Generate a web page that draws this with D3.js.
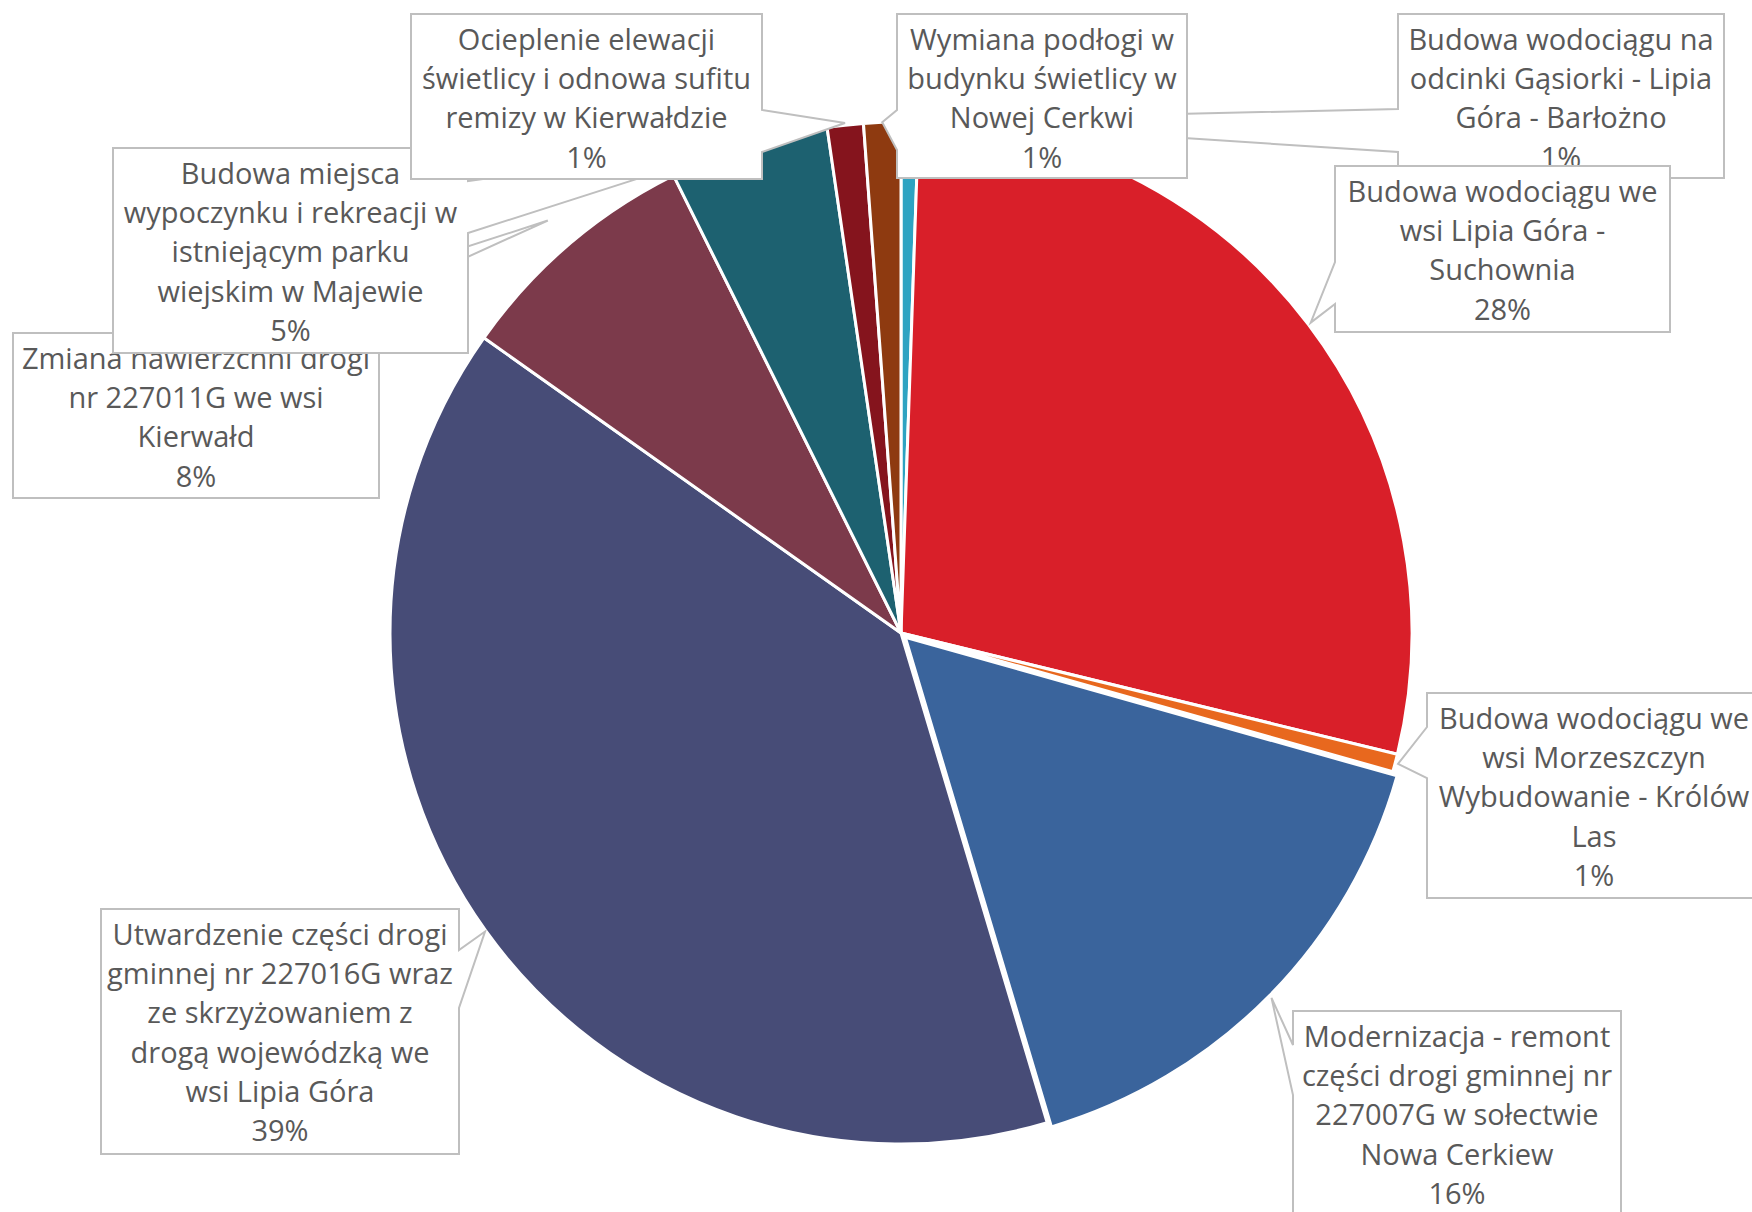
<!DOCTYPE html>
<html>
<head>
<meta charset="utf-8">
<script src="https://cdn.jsdelivr.net/npm/d3@7"></script>
<style>
  html, body { margin: 0; padding: 0; background: #ffffff; }
  svg { display: block; }
  text { font-family: "Open Sans", "Noto Sans", sans-serif; }
</style>
</head>
<body>
<svg id="chart" width="1752" height="1212"></svg>
<script>
// ---------------- DATA ----------------
const categories = [
  "Budowa wodociągu na\nodcinki Gąsiorki - Lipia\nGóra - Barłożno",
  "Budowa wodociągu we\nwsi Lipia Góra -\nSuchownia",
  "Budowa wodociągu we\nwsi Morzeszczyn\nWybudowanie - Królów\nLas",
  "Modernizacja - remont\nczęści drogi gminnej nr\n227007G w sołectwie\nNowa Cerkiew",
  "Utwardzenie części drogi\ngminnej nr 227016G wraz\nze skrzyżowaniem z\ndrogą wojewódzką we\nwsi Lipia Góra",
  "Zmiana nawierzchni drogi\nnr 227011G we wsi\nKierwałd",
  "Budowa miejsca\nwypoczynku i rekreacji w\nistniejącym parku\nwiejskim w Majewie",
  "Ocieplenie elewacji\nświetlicy i odnowa sufitu\nremizy w Kierwałdzie",
  "Wymiana podłogi w\nbudynku świetlicy w\nNowej Cerkwi"
];
// share of total (%)
const shares = [0.55, 28.25, 0.56, 16.0, 39.4, 7.85, 5.03, 1.14, 1.17];
const colors = ["#2ea3c2", "#d91f29", "#e8681e", "#3a649c", "#474c77",
                "#7c3a4b", "#1d6170", "#85141d", "#8e3a10"];

// ---------------- LAYOUT ----------------
const W = 1752, H = 1212;
const cx = 901, cy = 633, R = 511;
const explode = [0, 0, 0, 6, 0, 0, 0, 0, 0];
const lineStep = 39.3, firstLine = 25.5, fontSize = 29;
// label callout boxes: x, y, w, h and the side/span where the pointer leaves the box
const labelBoxes = [
  {x: 1398, y: 14,   w: 326, h: 164, side: "left",  s0: 109,  s1: 152,  tipR: 513},
  {x: 1335, y: 166,  w: 335, h: 166, side: "left",  s0: 262,  s1: 304,  tipR: 514},
  {x: 1427, y: 693,  w: 334, h: 205, side: "left",  s0: 727,  s1: 778,  tipR: 514},
  {x: 1293, y: 1011, w: 328, h: 205, side: "left",  s0: 1045, s1: 1095, tipR: 514},
  {x: 101,  y: 909,  w: 358, h: 245, side: "right", s0: 950,  s1: 1008, tipR: 512},
  {x: 13,   y: 333,  w: 366, h: 165, side: "top",   s0: 200,  s1: 300,  tipR: 543},
  {x: 113,  y: 148,  w: 355, h: 205, side: "right", s0: 181,  s1: 233,  tipR: 513},
  {x: 411,  y: 14,   w: 351, h: 165, side: "right", s0: 110,  s1: 152,  tipR: 513},
  {x: 897,  y: 14,   w: 290, h: 164, side: "left",  s0: 110,  s1: 150,  tipR: 511}
];

const svg = d3.select("#chart");
svg.append("rect").attr("width", W).attr("height", H).attr("fill", "#fff");

const total = d3.sum(shares);
const data = categories.map((c, i) => ({
  name: c.replace(/\n/g, " "),
  lines: c.split("\n"),
  value: shares[i],
  color: colors[i],
  explode: explode[i],
  box: labelBoxes[i]
}));

const pie = d3.pie().sort(null).value(d => d.value).startAngle(0).endAngle(2 * Math.PI);
const arcs = pie(data);
const arc = d3.arc().innerRadius(0).outerRadius(R);

const gPie = svg.append("g").attr("transform", `translate(${cx},${cy})`);
gPie.selectAll("path.slice")
  .data(arcs)
  .join("path")
  .attr("class", "slice")
  .attr("d", arc)
  .attr("fill", d => d.data.color)
  .attr("stroke", "#ffffff")
  .attr("stroke-width", 3)
  .attr("stroke-linejoin", "round")
  .attr("transform", d => {
    const a = (d.startAngle + d.endAngle) / 2;
    const e = d.data.explode;
    return `translate(${e * Math.sin(a)},${-e * Math.cos(a)})`;
  });

const pctFmt = v => Math.round(v / total * 100) + "%";

function calloutPath(b, tip) {
  const x0 = b.x, y0 = b.y, x1 = b.x + b.w, y1 = b.y + b.h;
  const p = d3.path();
  p.moveTo(x0, y0);
  if (b.side === "top") { p.lineTo(b.s0, y0); p.lineTo(tip[0], tip[1]); p.lineTo(b.s1, y0); }
  p.lineTo(x1, y0);
  if (b.side === "right") { p.lineTo(x1, b.s0); p.lineTo(tip[0], tip[1]); p.lineTo(x1, b.s1); }
  p.lineTo(x1, y1);
  p.lineTo(x0, y1);
  if (b.side === "left") { p.lineTo(x0, b.s1); p.lineTo(tip[0], tip[1]); p.lineTo(x0, b.s0); }
  p.closePath();
  return p.toString();
}

const gLabels = svg.append("g");
arcs.forEach(d => {
  const b = d.data.box;
  const a = (d.startAngle + d.endAngle) / 2;
  const rr = b.tipR + d.data.explode;
  const tip = [cx + rr * Math.sin(a), cy - rr * Math.cos(a)];
  const g = gLabels.append("g");
  g.append("path")
    .attr("d", calloutPath(b, tip))
    .attr("fill", "#ffffff")
    .attr("stroke", "#bfbfbf")
    .attr("stroke-width", 2);
  const lines = d.data.lines.concat([pctFmt(d.data.value)]);
  const t = g.append("text")
    .attr("text-anchor", "middle")
    .attr("font-size", fontSize)
    .attr("fill", "#595959");
  lines.forEach((ln, i) => {
    t.append("tspan")
      .attr("x", b.x + b.w / 2)
      .attr("y", b.y + firstLine + i * lineStep)
      .attr("dy", "0.35em")
      .text(ln);
  });
});
</script>
</body>
</html>
